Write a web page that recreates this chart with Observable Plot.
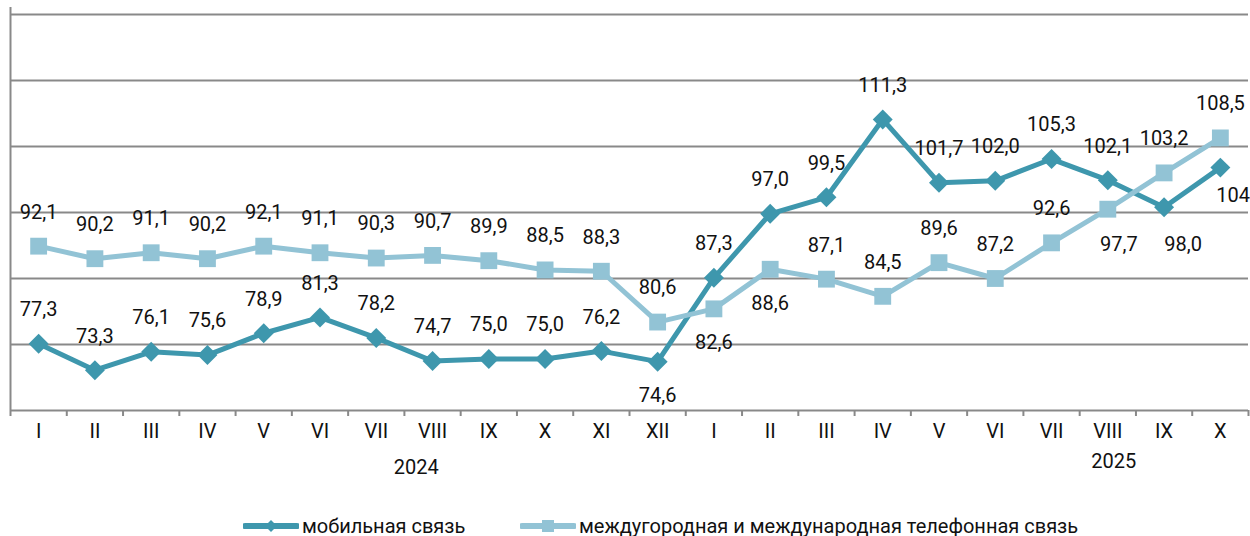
<!DOCTYPE html>
<html>
<head>
<meta charset="utf-8">
<script src="https://cdn.jsdelivr.net/npm/d3@7"></script>
<script src="https://cdn.jsdelivr.net/npm/@observablehq/plot@0.6"></script>
<style>
  html, body { margin: 0; padding: 0; background: #fff; }
  body { width: 1250px; height: 536px; overflow: hidden; font-family: Roboto, "Noto Sans", sans-serif; }
  #legend { height: 32px; display: flex; align-items: center; font-size: 20px; color: #111; }
  .item { display: flex; align-items: center; position: absolute; }
  .item svg { display: block; margin-right: 3px; }
</style>
</head>
<body>
<div id="chart"></div>
<div id="legend"></div>
<script>
// ---- data ----
const months = ["I","II","III","IV","V","VI","VII","VIII","IX","X","XI","XII",
                "I","II","III","IV","V","VI","VII","VIII","IX","X"];
const years = ["2024", "2025"];
const seriesNames = ["мобильная связь", "междугородная и международная телефонная связь"];
const mobile = [77.3, 73.3, 76.1, 75.6, 78.9, 81.3, 78.2, 74.7, 75.0, 75.0, 76.2, 74.6,
                87.3, 97.0, 99.5, 111.3, 101.7, 102.0, 105.3, 102.1, 98.0, 104.0];
const longDistance = [92.1, 90.2, 91.1, 90.2, 92.1, 91.1, 90.3, 90.7, 89.9, 88.5, 88.3, 80.6,
                      82.6, 88.6, 87.1, 84.5, 89.6, 87.2, 92.6, 97.7, 103.2, 108.5];
// label texts as printed on the chart (last mobile label is cut at the edge: "104")
const fmt = v => v.toFixed(1).replace(".", ",");
const mobileLabels = mobile.map(fmt);
mobileLabels[21] = "104";
const longLabels = longDistance.map(fmt);

// ---- styling ----
const dark = "#3e97ad";
const light = "#92c3d5";
const grid = "#898989";
const ink = "#111";

const rows = months.map((m, i) => ({
  i, m, mobile: mobile[i], ld: longDistance[i],
  mobileLabel: mobileLabels[i], longLabel: longLabels[i]
}));

// label placements (index sets)
const mobileBelow = new Set([11]);
const mobileBelowRight = new Set([20]);
const mobileEdge = new Set([21]);
const longBelow = new Set([12, 13]);
const longBelowRight = new Set([19]);

const yDomain = [67.2, 127.2];
const gridVals = d3.range(0, 7).map(k => yDomain[0] + 10 * k);
const boundaries = d3.range(-0.5, 22, 1);

const fs = 20;

const chart = Plot.plot({
  width: 1250,
  height: 510,
  marginLeft: 10,
  marginRight: 2,
  marginTop: 14,
  marginBottom: 100,
  style: { fontFamily: "Roboto, 'Noto Sans', sans-serif", fontSize: fs + "px", color: ink, background: "#fff" },
  x: { type: "linear", domain: [-0.5, 21.5], axis: null },
  y: { domain: yDomain, axis: null },
  marks: [
    Plot.ruleY(gridVals, { stroke: grid, strokeWidth: 2 }),
    Plot.ruleX([-0.5], { stroke: grid, strokeWidth: 2, insetTop: -7 }),
    Plot.ruleX(boundaries, { y1: yDomain[0], y2: yDomain[0], insetBottom: -6, stroke: grid, strokeWidth: 2 }),
    // month tick labels
    Plot.text(rows, { x: "i", text: "m", frameAnchor: "bottom", dy: 27, fontSize: fs, fill: ink }),
    // year labels (2024 under VII/VIII, 2025 under VIII)
    Plot.text([years[0]], { x: () => 6, text: d => d, frameAnchor: "bottom", dy: 63, dx: 40, fontSize: fs, fill: ink }),
    Plot.text([years[1]], { x: () => 19, text: d => d, frameAnchor: "bottom", dy: 57, dx: 6, fontSize: fs, fill: ink }),
    // series lines
    Plot.line(rows, { x: "i", y: "mobile", stroke: dark, strokeWidth: 5 }),
    Plot.dot(rows, { x: "i", y: "mobile", symbol: "diamond2", r: 9, fill: dark, stroke: "none" }),
    Plot.line(rows, { x: "i", y: "ld", stroke: light, strokeWidth: 5 }),
    Plot.dot(rows, { x: "i", y: "ld", symbol: "square", r: 9.5, fill: light, stroke: "none" }),
    // data labels: mobile
    Plot.text(rows.filter(d => !mobileBelow.has(d.i) && !mobileBelowRight.has(d.i) && !mobileEdge.has(d.i)),
      { x: "i", y: "mobile", text: "mobileLabel", dy: -34, fontSize: fs, fill: ink }),
    Plot.text(rows.filter(d => mobileBelow.has(d.i)),
      { x: "i", y: "mobile", text: "mobileLabel", dy: 34, fontSize: fs, fill: ink }),
    Plot.text(rows.filter(d => mobileBelowRight.has(d.i)),
      { x: "i", y: "mobile", text: "mobileLabel", dy: 37, dx: 19, fontSize: fs, fill: ink }),
    Plot.text(rows.filter(d => mobileEdge.has(d.i)),
      { x: "i", y: "mobile", text: "mobileLabel", dy: 28, dx: -4, textAnchor: "start", fontSize: fs, fill: ink }),
    // data labels: long distance
    Plot.text(rows.filter(d => !longBelow.has(d.i) && !longBelowRight.has(d.i)),
      { x: "i", y: "ld", text: "longLabel", dy: -34, fontSize: fs, fill: ink }),
    Plot.text(rows.filter(d => longBelow.has(d.i)),
      { x: "i", y: "ld", text: "longLabel", dy: 34, fontSize: fs, fill: ink }),
    Plot.text(rows.filter(d => longBelowRight.has(d.i)),
      { x: "i", y: "ld", text: "longLabel", dy: 35, dx: 11, fontSize: fs, fill: ink })
  ]
});
document.getElementById("chart").appendChild(chart);

// ---- legend ----
const legend = document.getElementById("legend");
legend.style.position = "relative";
function swatch(color, shape) {
  const s = d3.create("svg").attr("width", 56).attr("height", 16);
  s.append("line").attr("x1", 2).attr("x2", 54).attr("y1", 8).attr("y2", 8)
    .attr("stroke", color).attr("stroke-width", 6).attr("stroke-linecap", "round");
  if (shape === "diamond") {
    s.append("path").attr("d", "M28,2L34,8L28,14L22,8Z").attr("fill", color);
  } else {
    s.append("rect").attr("x", 22).attr("y", 2).attr("width", 12).attr("height", 12).attr("fill", color);
  }
  return s.node();
}
const items = [
  { name: seriesNames[0], color: dark, shape: "diamond", left: 243 },
  { name: seriesNames[1], color: light, shape: "square", left: 520 }
];
for (const it of items) {
  const div = document.createElement("div");
  div.className = "item";
  div.style.left = it.left + "px";
  div.style.top = "4px";
  div.appendChild(swatch(it.color, it.shape));
  const span = document.createElement("span");
  span.textContent = it.name;
  div.appendChild(span);
  legend.appendChild(div);
}
</script>
</body>
</html>
